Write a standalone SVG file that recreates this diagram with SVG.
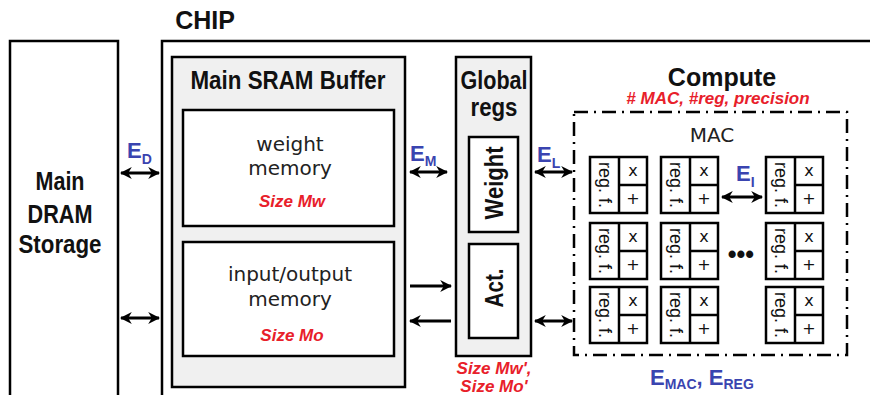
<svg xmlns="http://www.w3.org/2000/svg" width="870" height="395" viewBox="0 0 870 395">
<defs>
<marker id="ah" viewBox="0 0 10 10" refX="9" refY="5" markerWidth="4" markerHeight="4" orient="auto-start-reverse" markerUnits="strokeWidth">
<path d="M0,0 L10,5 L0,10 L3,5 z" fill="#000"/>
</marker>
<g id="cell">
<rect x="0" y="0" width="57" height="56" fill="#fff" stroke="#000" stroke-width="2.5"/>
<line x1="29" y1="0" x2="29" y2="56" stroke="#000" stroke-width="2.5"/>
<line x1="29" y1="28" x2="57" y2="28" stroke="#000" stroke-width="2.5"/>
<text x="43" y="19" class="op">x</text>
<text x="43" y="47" class="op">+</text>
<text class="rf" transform="translate(9,28) rotate(90)">reg. f.</text>
</g>
</defs>
<style>
.box{fill:#fff;stroke:#000;stroke-width:2.5}
.gbox{fill:#f0f0f0;stroke:#000;stroke-width:2.5}
.title{font-family:"Liberation Sans",Arial,sans-serif;font-weight:bold;font-size:25px;fill:#111;text-anchor:middle}
.plain{font-family:"DejaVu Sans",sans-serif;font-size:20px;fill:#222;text-anchor:middle}
.red{font-family:"Liberation Sans",Arial,sans-serif;font-weight:bold;font-style:italic;font-size:17px;fill:#e8202a;text-anchor:middle}
.blue{font-family:"Liberation Sans",Arial,sans-serif;font-weight:bold;font-size:22px;fill:#3a44b0}
.sub{font-size:14px}
.op{font-family:"DejaVu Sans",sans-serif;font-size:16px;fill:#111;text-anchor:middle}
.rf{font-family:"Liberation Sans",Arial,sans-serif;font-size:18px;fill:#111;text-anchor:middle}
.arr{stroke:#000;stroke-width:3;fill:none}
</style>
<rect width="870" height="395" fill="#fff"/>

<g id="dram">
<rect x="10" y="41" width="108" height="370" class="box"/>
<text x="60" y="190" class="title" font-size="24" textLength="49" lengthAdjust="spacingAndGlyphs">Main</text>
<text x="60" y="223" class="title" font-size="24" textLength="65" lengthAdjust="spacingAndGlyphs">DRAM</text>
<text x="60" y="253" class="title" font-size="24" textLength="83" lengthAdjust="spacingAndGlyphs">Storage</text>
</g>

<g id="chip">
<rect x="162" y="41" width="720" height="370" class="box"/>
<text x="205" y="29" class="title" font-size="22">CHIP</text>
</g>

<g id="sram">
<rect x="172" y="57" width="233" height="330" class="gbox"/>
<text x="288" y="89" class="title" textLength="195" lengthAdjust="spacingAndGlyphs">Main SRAM Buffer</text>
</g>
<g id="weight-memory">
<rect x="183" y="110" width="211" height="116" class="box"/>
<text x="290" y="151" class="plain">weight</text>
<text x="290" y="175" class="plain">memory</text>
<text x="292" y="207" class="red">Size Mw</text>
</g>
<g id="io-memory">
<rect x="183" y="242" width="211" height="114" class="box"/>
<text x="290" y="281" class="plain">input/output</text>
<text x="290" y="306" class="plain">memory</text>
<text x="292" y="341" class="red">Size Mo</text>
</g>

<g id="global-regs">
<rect x="456" y="57" width="75" height="299" class="gbox"/>
<text x="494" y="89" class="title" textLength="67" lengthAdjust="spacingAndGlyphs">Global</text>
<text x="494" y="116" class="title" textLength="47" lengthAdjust="spacingAndGlyphs">regs</text>
<text x="494" y="374" class="red">Size Mw',</text>
<text x="494" y="392" class="red">Size Mo'</text>
</g>
<g id="weight-reg">
<rect x="469" y="137" width="49" height="95" class="box"/>
<text class="title" transform="translate(503,183) rotate(-90)" textLength="73" lengthAdjust="spacingAndGlyphs">Weight</text>
</g>
<g id="act-reg">
<rect x="469" y="244" width="49" height="94" class="box"/>
<text class="title" transform="translate(503,288) rotate(-90)" textLength="39" lengthAdjust="spacingAndGlyphs">Act.</text>
</g>

<g id="compute">
<rect x="574" y="112" width="273" height="243" fill="none" stroke="#000" stroke-width="2.5" stroke-dasharray="14,6,2,6"/>
<text x="722" y="86" class="title" font-size="21">Compute</text>
<text x="718" y="104" class="red" font-size="16">#  MAC, #reg, precision</text>
<text x="712" y="142" class="plain" font-size="19">MAC</text>
<text x="741" y="263" class="title" font-size="22">•••</text>
</g>
<g id="mac-cells">
<use href="#cell" x="590" y="157"/>
<use href="#cell" x="661" y="157"/>
<use href="#cell" x="766" y="157"/>
<use href="#cell" x="590" y="223"/>
<use href="#cell" x="661" y="223"/>
<use href="#cell" x="766" y="223"/>
<use href="#cell" x="590" y="287"/>
<use href="#cell" x="661" y="287"/>
<use href="#cell" x="766" y="287"/>
</g>

<g id="connectors">
<line x1="121" y1="173" x2="159" y2="173" class="arr" marker-start="url(#ah)" marker-end="url(#ah)"/>
<line x1="121" y1="318" x2="159" y2="318" class="arr" marker-start="url(#ah)" marker-end="url(#ah)"/>
<line x1="410" y1="172" x2="447" y2="172" class="arr" marker-start="url(#ah)" marker-end="url(#ah)"/>
<line x1="535" y1="172" x2="572" y2="172" class="arr" marker-start="url(#ah)" marker-end="url(#ah)"/>
<line x1="410" y1="286" x2="451" y2="286" class="arr" marker-end="url(#ah)"/>
<line x1="451" y1="321" x2="410" y2="321" class="arr" marker-end="url(#ah)"/>
<line x1="535" y1="321" x2="572" y2="321" class="arr" marker-start="url(#ah)" marker-end="url(#ah)"/>
<line x1="722" y1="197" x2="762" y2="197" class="arr" marker-start="url(#ah)" marker-end="url(#ah)"/>
<text x="127" y="158" class="blue">E<tspan class="sub" dy="6">D</tspan></text>
<text x="410" y="161" class="blue">E<tspan class="sub" dy="5">M</tspan></text>
<text x="537" y="162" class="blue">E<tspan class="sub" dy="6">L</tspan></text>
<text x="736" y="181" class="blue">E<tspan class="sub" dy="6">I</tspan></text>
<text x="650" y="385" class="blue" font-size="24">E<tspan class="sub" font-size="15" dy="4">MAC</tspan><tspan dy="-4">, E</tspan><tspan class="sub" font-size="15" dy="4">REG</tspan></text>
</g>
</svg>
